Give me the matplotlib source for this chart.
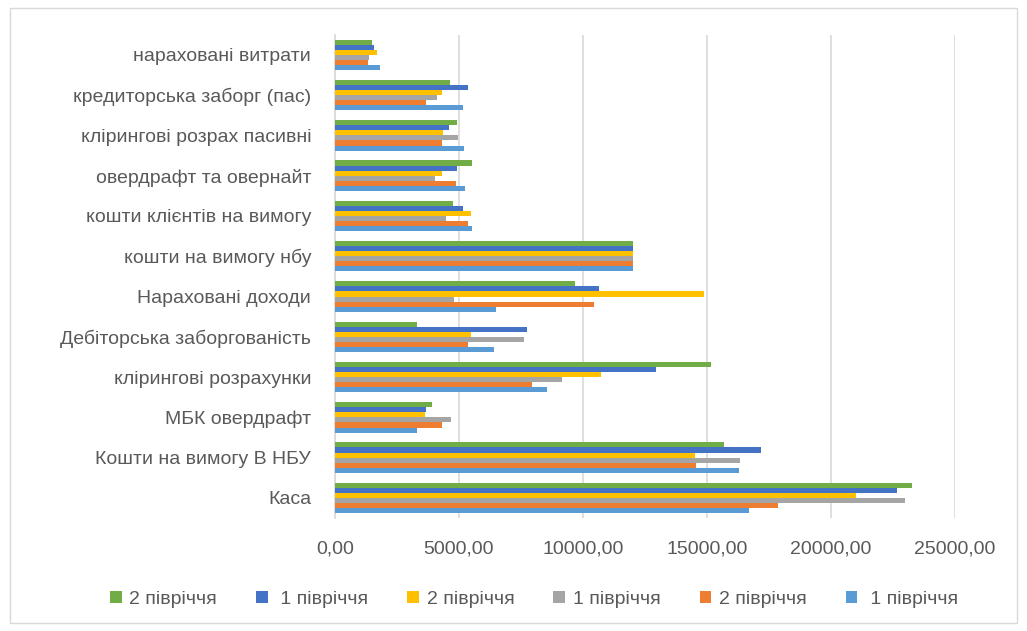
import matplotlib.pyplot as plt
import matplotlib.patches as patches
import numpy as np
from matplotlib.ticker import FuncFormatter

# categories from bottom to top
categories = ['Каса', 'Кошти на вимогу В НБУ', 'МБК овердрафт', 'клірингові розрахунки',
              'Дебіторська заборгованість', 'Нараховані доходи', 'кошти на вимогу нбу',
              'кошти клієнтів на вимогу', 'овердрафт та овернайт', 'клірингові розрах пасивні',
              'кредиторська заборг (пас)', 'нараховані витрати']

# series (bottom bar in group first)
s1_light = [16690, 16310, 3310, 8540, 6430, 6490, 12000, 5520, 5240, 5200, 5170, 1820]
s2_orange = [17880, 14560, 4340, 7930, 5380, 10430, 12000, 5350, 4900, 4340, 3690, 1350]
s3_gray = [22980, 16350, 4690, 9150, 7610, 4800, 12000, 4470, 4050, 4980, 4120, 1390]
s4_yellow = [21010, 14530, 3650, 10710, 5500, 14890, 12000, 5500, 4340, 4380, 4340, 1700]
s5_dblue = [22640, 17180, 3680, 12950, 7760, 10640, 12000, 5170, 4940, 4620, 5350, 1590]
s6_green = [23270, 15670, 3930, 15170, 3330, 9700, 12000, 4770, 5520, 4920, 4660, 1500]

series = [s1_light, s2_orange, s3_gray, s4_yellow, s5_dblue, s6_green]
labels = [' 1 півріччя', '2 півріччя', '1 півріччя', '2 півріччя', ' 1 півріччя', '2 півріччя']
colors = ['#5B9BD5', '#ED7D31', '#A5A5A5', '#FFC000', '#4472C4', '#70AD47']

plt.rcParams['font.family'] = ['Liberation Sans', 'DejaVu Sans']
txt = '#595959'

fig = plt.figure(figsize=(10.27, 6.31), dpi=100)
ax = fig.add_axes([0.326, 0.179, 0.604, 0.766])

y = np.arange(len(categories))
h = 0.126
handles = []
for i, (vals, lab, col) in enumerate(zip(series, labels, colors)):
    b = ax.barh(y + (i - 2.5) * h, vals, height=h, color=col, label=lab, zorder=3)
    handles.append(b)

ax.set_xlim(0, 25000)
ax.set_ylim(-0.5, len(categories) - 0.5)
ax.set_xticks(np.arange(0, 25001, 5000))
ax.xaxis.set_major_formatter(FuncFormatter(lambda v, p: f'{v:.2f}'.replace('.', ',')))
ax.set_yticks(y)
ax.set_yticklabels(categories)
ax.tick_params(axis='both', length=0, labelsize=14, colors=txt)
ax.tick_params(axis='y', pad=17)
ax.tick_params(axis='x', pad=16)
ax.grid(axis='x', color='#D9D9D9', linewidth=1.2, zorder=0)
for s in ['top', 'right', 'bottom']:
    ax.spines[s].set_visible(False)
ax.spines['left'].set_color('#D9D9D9')
ax.spines['left'].set_linewidth(1.2)

# legend order reversed, as in the picture
leg = fig.legend(handles[::-1], labels[::-1], loc='center', bbox_to_anchor=(0.52, 0.05),
                 ncol=6, frameon=False, fontsize=14, handlelength=0.6, handleheight=0.6,
                 columnspacing=2.0, handletextpad=0.4)
for t in leg.get_texts():
    t.set_color(txt)

# outer chart frame
fig.patches.append(patches.Rectangle((0.01, 0.012), 0.98, 0.976, transform=fig.transFigure,
                                     fill=False, edgecolor='#D9D9D9', linewidth=1))

plt.savefig('out.png', dpi=100)
